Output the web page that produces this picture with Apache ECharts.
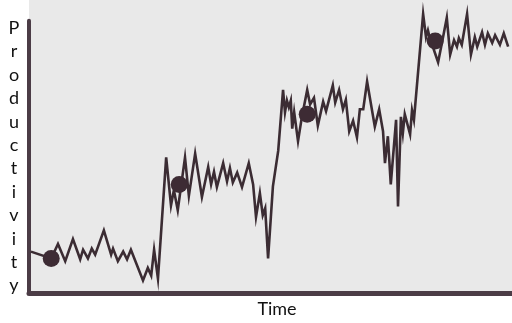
<!DOCTYPE html>
<html>
<head>
<meta charset="utf-8">
<script src="https://cdn.jsdelivr.net/npm/echarts@6/dist/echarts.min.js"></script>
<style>
  html, body { margin: 0; padding: 0; background: #ffffff; }
  #chart { width: 512px; height: 323px; }
</style>
</head>
<body>
<div id="chart"></div>
<script>
// Time (x) and productivity (y) readings of the jagged line
const time = [0.4, 4.6, 6.0, 7.5, 9.1, 10.6, 11.2, 12.2, 13.0, 13.7, 15.5, 17.0, 17.4, 18.4, 19.5, 20.3, 21.1, 23.6, 24.6, 25.3, 25.9, 26.7,
  28.4, 29.4, 30.0, 30.8, 32.3, 33.1, 34.4, 35.8, 37.1, 37.7, 38.3, 38.9, 40.2, 41.0, 41.6, 42.2, 43.1, 44.1, 45.5, 46.4, 47.0, 47.8, 48.4, 48.9, 49.5,
  50.5, 50.9, 51.6, 52.6, 53.0, 53.4, 53.8, 54.2, 54.5, 54.9, 55.7, 56.5, 57.6, 58.2, 59.0, 59.8, 60.9, 61.5, 62.9, 63.4, 64.2, 65.0, 65.6, 66.3, 67.1, 67.9, 68.5, 69.2, 70.0,
  71.6, 72.5, 73.3, 73.7, 74.3, 74.9, 76.0, 76.4, 77.0, 77.4, 77.8, 78.9, 79.3, 79.7,
  81.6, 82.2, 82.6, 83.0, 84.7, 85.5, 86.5, 87.2, 88.0, 88.6, 89.0, 89.6, 90.7, 91.5, 92.3, 92.8, 93.8, 94.4, 95.0, 95.9, 96.5, 97.5, 98.3, 99.2];
const productivity = [15.2, 12.7, 18.0, 11.7, 19.8, 12.4, 15.9, 12.7, 16.3, 14.1, 23.0, 14.1, 16.3, 11.7, 15.2, 12.4, 15.9, 4.6, 9.2, 6.4, 15.9, 5.3,
  49.8, 32.2, 37.8, 30.4, 49.8, 35.7, 51.2, 35.3, 46.3, 39.9, 44.5, 38.9, 47.7, 41.0, 45.9, 40.6, 44.2, 38.9, 47.7, 39.9, 27.9, 36.7, 28.6, 31.1, 12.7,
  39.2, 39.9, 52.3, 74.6, 66.4, 70.7, 68.2, 70.7, 60.4, 66.4, 55.8, 64.7, 74.6, 69.3, 71.7, 61.5, 70.3, 66.8, 76.3, 70.0, 74.6, 67.5, 71.0, 59.4, 63.3, 57.2, 67.5, 67.5, 77.7,
  61.1, 67.5, 59.4, 47.7, 57.6, 39.9, 63.6, 31.8, 64.7, 58.7, 65.7, 58.3, 67.1, 63.6,
  102.5, 94.0, 96.5, 93.6, 84.8, 91.9, 101.1, 87.6, 92.9, 90.5, 93.6, 91.2, 102.5, 87.6, 94.0, 90.5, 95.8, 91.2, 95.4, 91.9, 94.7, 91.2, 95.4, 90.5];

// Plateau markers
const plateauTime = [4.6, 31.1, 57.6, 84.1];
const plateauLevel = [12.7, 39.9, 65.7, 92.6];

const yLabel = 'Productivity';
const xLabel = 'Time';

const lineData = time.map((t, i) => [t, productivity[i]]);
const dotData = plateauTime.map((t, i) => [t, plateauLevel[i]]);

const ink = '#3b2c33';
const axisInk = '#4b3c46';

const chart = echarts.init(document.getElementById('chart'), null, { renderer: 'canvas' });
chart.setOption({
  animation: false,
  backgroundColor: '#ffffff',
  graphic: [{
    type: 'rect', z: -10, silent: true,
    left: 29, top: 0,
    shape: { width: 483, height: 293 },
    style: { fill: '#e9e9e9' }
  }],
  grid: { left: 29, right: 0, top: 10, bottom: 30, containLabel: false },
  xAxis: {
    type: 'value', min: 0, max: 100,
    name: xLabel, nameLocation: 'middle', nameGap: 7,
    nameTextStyle: { fontFamily: 'Lato', fontSize: 18, color: '#111', padding: [0, 0, 0, 13], verticalAlign: 'top' },
    axisLine: { show: true, onZero: false, lineStyle: { color: axisInk, width: 5 } },
    axisTick: { show: false }, axisLabel: { show: false }, splitLine: { show: false }
  },
  yAxis: {
    type: 'value', min: 0, max: 100,
    name: yLabel.split('').join('\n'), nameLocation: 'middle', nameGap: 15, nameRotate: 0,
    nameTextStyle: { fontFamily: 'Lato', fontSize: 18, color: '#111', lineHeight: 23.4, align: 'center', verticalAlign: 'middle', padding: [17, 0, 0, 0] },
    axisLine: { show: true, onZero: false, lineStyle: { color: axisInk, width: 4 } },
    axisTick: { show: false }, axisLabel: { show: false }, splitLine: { show: false }
  },
  series: [
    {
      type: 'line', data: lineData, symbol: 'none', clip: false,
      lineStyle: { color: ink, width: 2.6, join: 'miter' }, z: 3
    },
    {
      type: 'scatter', data: dotData, symbol: 'circle', symbolSize: 17,
      itemStyle: { color: '#3d2b34', opacity: 1 }, z: 4
    }
  ]
});
</script>
</body>
</html>
